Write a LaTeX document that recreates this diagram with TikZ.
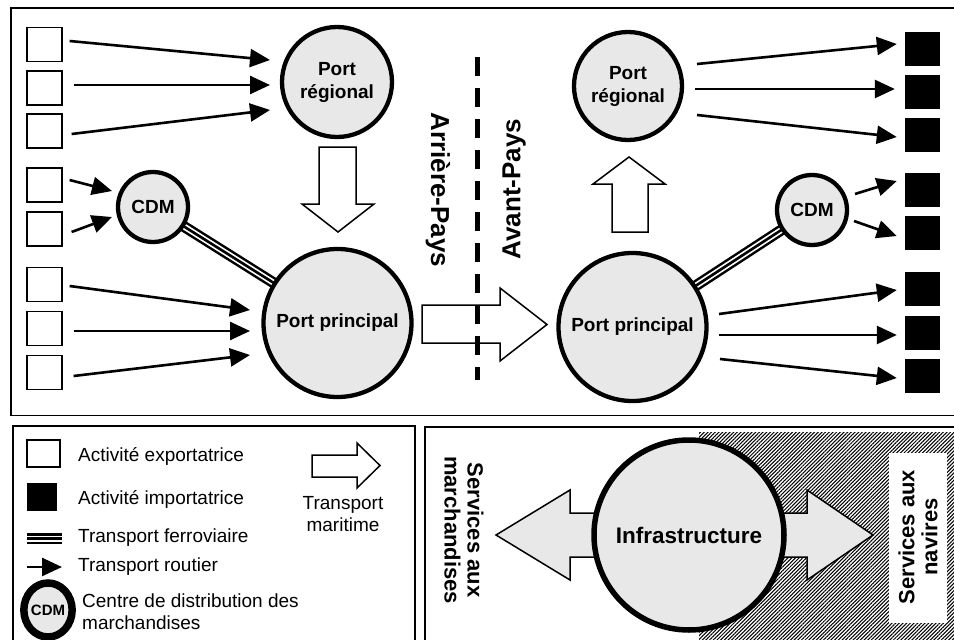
\documentclass[tikz,border=0pt]{standalone}
\usepackage{fontspec}
\setmainfont{Liberation Sans}
\usetikzlibrary{arrows.meta,patterns.meta,shapes.geometric,backgrounds,calc}
\definecolor{portgray}{RGB}{232,232,232}
\begin{document}
\begin{tikzpicture}[x=1pt,y=-1pt,
  expbox/.style={draw,line width=1.2pt,fill=white,minimum width=35pt,minimum height=34pt,inner sep=0pt},
  impbox/.style={fill=black,minimum width=35pt,minimum height=34pt,inner sep=0pt},
  port/.style={circle,draw,line width=4.3pt,fill=portgray,inner sep=0pt,align=center,
    font=\fontsize{19}{23}\selectfont\bfseries},
  road/.style={line width=2.6pt,-{Triangle[length=20pt,width=18pt]}},
  rail/.style={line width=11pt,postaction={draw,white,line width=6pt},postaction={draw,black,line width=2.6pt}},
  blockarrow/.style={draw,fill=white,line width=1.5pt,line join=miter},
  frame/.style={draw,line width=1.2pt},
  legendtxt/.style={anchor=west,inner sep=0pt,font=\fontsize{19}{22}\selectfont},
  bigtxt/.style={inner sep=0pt,align=center,font=\fontsize{26}{28}\selectfont\bfseries},
  svctxt/.style={inner sep=0pt,align=center,font=\fontsize{22}{23}\selectfont\bfseries}
]
\useasboundingbox (0,0) rectangle (954,640);

% ---------- frames ----------
\draw[frame] (11,8) rectangle (975,415.5);
\draw[frame] (13,426) rectangle (415,660);
\draw[frame] (425,427) rectangle (975,660);

% ---------- export activities (left) ----------
\foreach \i/\yy in {1/44.5,2/88,3/131,4/185,5/229,6/284.5,7/328.5,8/372.5}
  \node[expbox] (e\i) at (44.5,\yy) {};
% ---------- import activities (right) ----------
\foreach \i/\yy in {1/49,2/92,3/135,4/189.5,5/232.5,6/289,7/332.5,8/376}
  \node[impbox] (m\i) at (922.5,\yy) {};

% ---------- ports and distribution centres ----------
\node[port,minimum size=110pt] (prL) at (337,82) {Port\\régional};
\node[port,minimum size=148pt] (ppL) at (337.5,323) {Port principal};
\node[port,minimum size=70pt]  (cdmL) at (153,207) {CDM};
\node[port,minimum size=108pt] (prR) at (628,86) {Port\\régional};
\node[port,minimum size=148pt] (ppR) at (632.5,327) {Port principal};
\node[port,minimum size=70pt]  (cdmR) at (812,210) {CDM};

% rail links behind the circles
\begin{pgfonlayer}{background}
  \draw[rail] (cdmL.center) -- (ppL.center);
  \draw[rail] (cdmR.center) -- (ppR.center);
\end{pgfonlayer}

% ---------- road transport: hinterland ----------
\coordinate (tL1) at (270,60);  \coordinate (tL2) at (270,85);  \coordinate (tL3) at (270,110);
\coordinate (tL4) at (112,191); \coordinate (tL5) at (112,217);
\coordinate (tL6) at (250,310); \coordinate (tL7) at (250,331); \coordinate (tL8) at (250,355);
\draw[road] ($(e1.east)+(7,-3.5)$) -- (tL1);
\draw[road] ($(e2.east)+(11,-3)$) -- (tL2);
\draw[road] ($(e3.east)+(9,3)$) -- (tL3);
\draw[road] ($(e4.east)+(7,-5)$) -- (tL4);
\draw[road] ($(e5.east)+(9,3)$) -- (tL5);
\draw[road] ($(e6.east)+(7,1.5)$) -- (tL6);
\draw[road] ($(e7.east)+(11,2.5)$) -- (tL7);
\draw[road] ($(e8.east)+(11,3.5)$) -- (tL8);

% ---------- road transport: foreland ----------
\draw[road] (697,64)  -- ($(m1.west)+(-8,-5)$);
\draw[road] (695,89)  -- ($(m2.west)+(-10,-3)$);
\draw[road] (697,115) -- ($(m3.west)+(-8,2)$);
\draw[road] (855,194) -- ($(m4.west)+(-8,-8.5)$);
\draw[road] (854,221) -- ($(m5.west)+(-8,3.5)$);
\draw[road] (719,314) -- ($(m6.west)+(-8,1)$);
\draw[road] (719,335) -- ($(m7.west)+(-8,2.5)$);
\draw[road] (720,359) -- ($(m8.west)+(-8,2)$);

% ---------- flows between ports ----------
\draw[blockarrow] (319,147) -- (356,147) -- (356,204) -- (374,204) -- (338,232) -- (302,204) -- (319,204) -- cycle;
\draw[blockarrow] (612,232) -- (648,232) -- (648,184) -- (665,184) -- (629,157) -- (593,184) -- (612,184) -- cycle;
\draw[blockarrow] (422,305) -- (500,305) -- (500,288) -- (547,324.5) -- (500,361) -- (500,343) -- (422,343) -- cycle;

% hinterland / foreland boundary
\coordinate (bTop) at (477.5,57);
\coordinate (bBot) at (477.5,380);
\draw[line width=5pt,dash pattern=on 19pt off 12pt] (bTop) -- (bBot);
\node[bigtxt,rotate=-90] (arr) at (438,190) {Arrière-Pays};
\node[bigtxt,rotate=90]  (ava) at (514,189) {Avant-Pays};

% ---------- legend ----------
\node[draw,line width=1.2pt,minimum width=33pt,minimum height=27pt,inner sep=0pt] (lexp) at (43.5,453.5) {};
\node[fill=black,minimum width=30pt,minimum height=28pt,inner sep=0pt] (limp) at (42,497) {};
\coordinate (lrA) at (27,538.5); \coordinate (lrB) at (62,538.5);
\draw[rail] (lrA) -- (lrB);
\coordinate (lrdA) at (27,567); \coordinate (lrdB) at (62,567);
\draw[road] (lrdA) -- (lrdB);
\node[ellipse,draw,line width=7.5pt,fill=portgray,minimum width=46pt,minimum height=54pt,inner sep=0pt,
  font=\fontsize{15}{16}\selectfont\bfseries] (lcdm) at (48,610) {CDM};
\node[legendtxt] (t1) at (78,456) {Activité exportatrice};
\node[legendtxt] (t2) at (78,499) {Activité importatrice};
\node[legendtxt] (t3) at (78,538) {Transport ferroviaire};
\node[legendtxt] (t4) at (78,567) {Transport routier};
\node[legendtxt,align=left] (t5) at (82,612) {Centre de distribution des\\marchandises};
\draw[blockarrow] (312,455) -- (357,455) -- (357,443) -- (380,465.5) -- (357,488) -- (357,477) -- (312,477) -- cycle;
\node[inner sep=0pt,align=center,font=\fontsize{19}{22}\selectfont] (tmar) at (343,514) {Transport\\maritime};

% ---------- port services ----------
\fill[pattern={Lines[angle=45,distance=2.6pt,line width=1.05pt]}] (699,432) rectangle (975,660);
\node[fill=white,minimum width=58pt,minimum height=170pt,inner sep=0pt] (navbox) at (918,538) {};
\draw[fill=portgray,line width=1.5pt,line join=miter]
  (496,535) -- (570,490) -- (570,513) -- (807,513) -- (807,490) -- (873,535)
  -- (807,580) -- (807,557) -- (570,557) -- (570,580) -- cycle;
\node[circle,draw,line width=5.5pt,fill=portgray,minimum size=190pt,inner sep=0pt,
  font=\fontsize{22.5}{24}\selectfont\bfseries] (infra) at (689,535) {Infrastructure};
\node[svctxt,rotate=-90] (smar) at (464,530) {Services aux\\marchandises};
\node[svctxt,rotate=90]  (snav) at (918,537) {Services aux\\navires};

\end{tikzpicture}
\end{document}
